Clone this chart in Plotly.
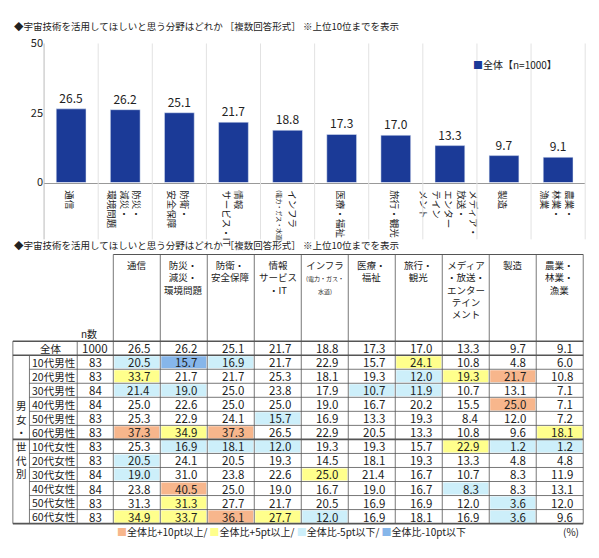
import plotly.graph_objects as go

cats_chart = ["通信", "防災・<br>減災・<br>環境問題", "防衛・<br>安全保障", "情報<br>サービス・IT",
              "インフラ<br><span style='font-size:6px'>(電力・ガス・水道)</span>", "医療・福祉", "旅行・観光",
              "メディア・<br>放送・<br>エンター<br>テイン<br>メント", "製造", "農業・<br>林業・<br>漁業"]
cats_table = ["通信", "防災・<br>減災・<br>環境問題", "防衛・<br>安全保障", "情報<br>サービス<br>・IT",
              "インフラ<br><span style='font-size:6px'>(電力・ガス・<br>水道)</span>", "医療・<br>福祉", "旅行・<br>観光",
              "メディア<br>・放送・<br>エンター<br>テイン<br>メント", "製造", "農業・<br>林業・<br>漁業"]
total = [26.5, 26.2, 25.1, 21.7, 18.8, 17.3, 17.0, 13.3, 9.7, 9.1]
row_labels = ["10代男性", "20代男性", "30代男性", "40代男性", "50代男性", "60代男性",
              "10代女性", "20代女性", "30代女性", "40代女性", "50代女性", "60代女性"]
row_n = [83, 83, 84, 84, 83, 83, 83, 83, 84, 84, 83, 83]
rows = [
    [20.5, 15.7, 16.9, 21.7, 22.9, 15.7, 24.1, 10.8, 4.8, 6.0],
    [33.7, 21.7, 21.7, 25.3, 18.1, 19.3, 12.0, 19.3, 21.7, 10.8],
    [21.4, 19.0, 25.0, 23.8, 17.9, 10.7, 11.9, 10.7, 13.1, 7.1],
    [25.0, 22.6, 25.0, 25.0, 19.0, 16.7, 20.2, 15.5, 25.0, 7.1],
    [25.3, 22.9, 24.1, 15.7, 16.9, 13.3, 19.3, 8.4, 12.0, 7.2],
    [37.3, 34.9, 37.3, 26.5, 22.9, 20.5, 13.3, 10.8, 9.6, 18.1],
    [25.3, 16.9, 18.1, 12.0, 19.3, 19.3, 15.7, 22.9, 1.2, 1.2],
    [20.5, 24.1, 20.5, 19.3, 14.5, 18.1, 19.3, 13.3, 4.8, 4.8],
    [19.0, 31.0, 23.8, 22.6, 25.0, 21.4, 16.7, 10.7, 8.3, 11.9],
    [23.8, 40.5, 25.0, 19.0, 16.7, 19.0, 16.7, 8.3, 8.3, 13.1],
    [31.3, 31.3, 27.7, 21.7, 20.5, 16.9, 16.9, 12.0, 3.6, 12.0],
    [34.9, 33.7, 36.1, 27.7, 12.0, 16.9, 18.1, 16.9, 3.6, 9.6],
]

FONT = "Noto Sans CJK JP"
BAR = "#1B3A97"
C_P10, C_P5, C_M5, C_M10 = "#F7B68C", "#FFFF8C", "#CDEFFA", "#86B6EA"
W, H = 599, 558          # coordinate space (reference pixels)
FW, FH = 584, 544        # actual figure size (avoid scrollbar clipping)

fig = go.Figure()
fig.add_trace(go.Bar(x=list(range(10)), y=total, marker_color=BAR, width=0.55,
                     text=[f"{v:.1f}" for v in total], textposition="outside",
                     textfont=dict(size=12, color="#222"), cliponaxis=False,
                     name="全体【n=1000】", showlegend=False))
fig.add_trace(go.Scatter(x=[0], y=[0], xaxis="x2", yaxis="y2", mode="markers",
                         marker=dict(opacity=0), showlegend=False, hoverinfo="skip"))

X0, X1 = 37, 592
fig.update_layout(
    width=FW, height=FH, margin=dict(l=0, r=0, t=0, b=0),
    paper_bgcolor="white", plot_bgcolor="rgba(0,0,0,0)",
    font=dict(family=FONT, size=11, color="#222"),
    showlegend=False,
    xaxis=dict(domain=[X0 / W, X1 / W], range=[-0.5, 9.5], tickvals=list(range(10)),
               ticktext=cats_chart, tickfont=dict(size=9.5), showgrid=False,
               showline=True, linecolor="#999", ticks=""),
    yaxis=dict(domain=[1 - 175 / H, 1 - 28 / H], range=[0, 50], tickvals=[0, 25, 50],
               ticksuffix="%", showgrid=False, showline=False, zeroline=False,
               tickfont=dict(size=11)),
    xaxis2=dict(domain=[0, 1], range=[0, W], visible=False, fixedrange=True),
    yaxis2=dict(domain=[0, 1], range=[H, 0], visible=False, fixedrange=True),
)

shapes, ann = [], []
title = "◆宇宙技術を活用してほしいと思う分野はどれか ［複数回答形式］ ※上位10位までを表示"
for ty in (9, 241):
    ann.append(dict(x=4, y=ty, xref="x2", yref="y2", text=title, showarrow=False,
                    xanchor="left", yanchor="middle", font=dict(size=9.5)))
ann.append(dict(x=475, y=50, xref="x2", yref="y2", text=f"<span style='color:{BAR}'>■</span>全体【n=1000】",
                showarrow=False, xanchor="left", yanchor="middle", font=dict(size=10)))
cw = (X1 - X0) / 10
for i in range(11):
    xp = X0 + i * cw
    shapes.append(dict(type="line", xref="x2", yref="y2", x0=xp, x1=xp, y0=28, y1=235,
                       line=dict(color="#BBB" if i == 0 else "#E2E2E2", width=1)))

TL, TG, TLAB, TN, TD0, TR = 5, 22, 71, 108, 108, 590
dw = (TR - TD0) / 10
HT, R0, RH = 251, 342.6, 14.83
nrows = 13
TB = R0 + nrows * RH

def cell_color(v, base):
    d = v - base
    if d >= 10: return C_P10
    if d >= 5: return C_P5
    if d <= -10: return C_M10
    if d <= -5: return C_M5
    return None

for r, vals in enumerate(rows):
    y0 = R0 + (r + 1) * RH
    for c, v in enumerate(vals):
        col = cell_color(v, total[c])
        if col:
            shapes.append(dict(type="rect", xref="x2", yref="y2", x0=TD0 + c * dw + 1, x1=TD0 + (c + 1) * dw - 1,
                               y0=y0 + 1, y1=y0 + RH - 1, fillcolor=col, line=dict(width=0), layer="below"))
        ann.append(dict(x=TD0 + (c + 1) * dw - 8, y=y0 + RH / 2, xref="x2", yref="y2", text=f"{v:.1f}",
                        showarrow=False, xanchor="right", yanchor="middle", font=dict(size=11.5)))
    ann.append(dict(x=(TG + TLAB) / 2, y=y0 + RH / 2, xref="x2", yref="y2", text=row_labels[r],
                    showarrow=False, xanchor="center", yanchor="middle", font=dict(size=10.5)))
    ann.append(dict(x=(TLAB + TN) / 2, y=y0 + RH / 2, xref="x2", yref="y2", text=str(row_n[r]),
                    showarrow=False, xanchor="center", yanchor="middle", font=dict(size=11.5)))
for c, v in enumerate(total):
    ann.append(dict(x=TD0 + (c + 1) * dw - 8, y=R0 + RH / 2, xref="x2", yref="y2", text=f"{v:.1f}",
                    showarrow=False, xanchor="right", yanchor="middle", font=dict(size=11.5)))
ann.append(dict(x=(TL + TLAB) / 2 + 6, y=R0 + RH / 2, xref="x2", yref="y2", text="全体",
                showarrow=False, xanchor="center", yanchor="middle", font=dict(size=10.5)))
ann.append(dict(x=(TLAB + TN) / 2, y=R0 + RH / 2, xref="x2", yref="y2", text="1000",
                showarrow=False, xanchor="center", yanchor="middle", font=dict(size=11.5)))
ann.append(dict(x=(TLAB + TN) / 2 - 6, y=R0 - 8, xref="x2", yref="y2", text="n数",
                showarrow=False, xanchor="center", yanchor="middle", font=dict(size=10)))
ann.append(dict(x=(TL + TG) / 2, y=(R0 + RH + TB) / 2, xref="x2", yref="y2",
                text="男<br>女<br>・<br>世<br>代<br>別", showarrow=False, xanchor="center", yanchor="middle",
                font=dict(size=10.5)))
for c, t in enumerate(cats_table):
    ann.append(dict(x=TD0 + (c + 0.5) * dw, y=HT + 2, xref="x2", yref="y2", text=t, showarrow=False,
                    xanchor="center", yanchor="top", font=dict(size=9.5)))
LC = "#555"
for r in range(nrows + 1):
    yy = R0 + r * RH
    thick = r in (0, 1, 7, nrows)
    shapes.append(dict(type="line", xref="x2", yref="y2", x0=TL if thick else TG, x1=TR, y0=yy, y1=yy,
                       line=dict(color=LC, width=1.6 if thick else 0.8)))
shapes.append(dict(type="line", xref="x2", yref="y2", x0=TD0, x1=TR, y0=HT, y1=HT, line=dict(color=LC, width=1)))
for xx, ytop in [(TL, R0), (TG, R0 + RH), (TLAB, R0), (TN, HT)] + [(TD0 + c * dw, HT) for c in range(1, 11)]:
    shapes.append(dict(type="line", xref="x2", yref="y2", x0=xx, x1=xx, y0=ytop, y1=TB, line=dict(color=LC, width=0.8)))

leg = (f"<span style='color:{C_P10}'>■</span>全体比+10pt以上/ <span style='color:{C_P5}'>■</span>全体比+5pt以上/ "
       f"<span style='color:{C_M5}'>■</span>全体比-5pt以下/ <span style='color:{C_M10}'>■</span>全体比-10pt以下")
ann.append(dict(x=110, y=544, xref="x2", yref="y2", text=leg, showarrow=False, xanchor="left",
                yanchor="middle", font=dict(size=10)))
ann.append(dict(x=588, y=544, xref="x2", yref="y2", text="(%)", showarrow=False, xanchor="right",
                yanchor="middle", font=dict(size=10)))

fig.update_layout(shapes=shapes, annotations=ann)
fig.write_html("out.html")
